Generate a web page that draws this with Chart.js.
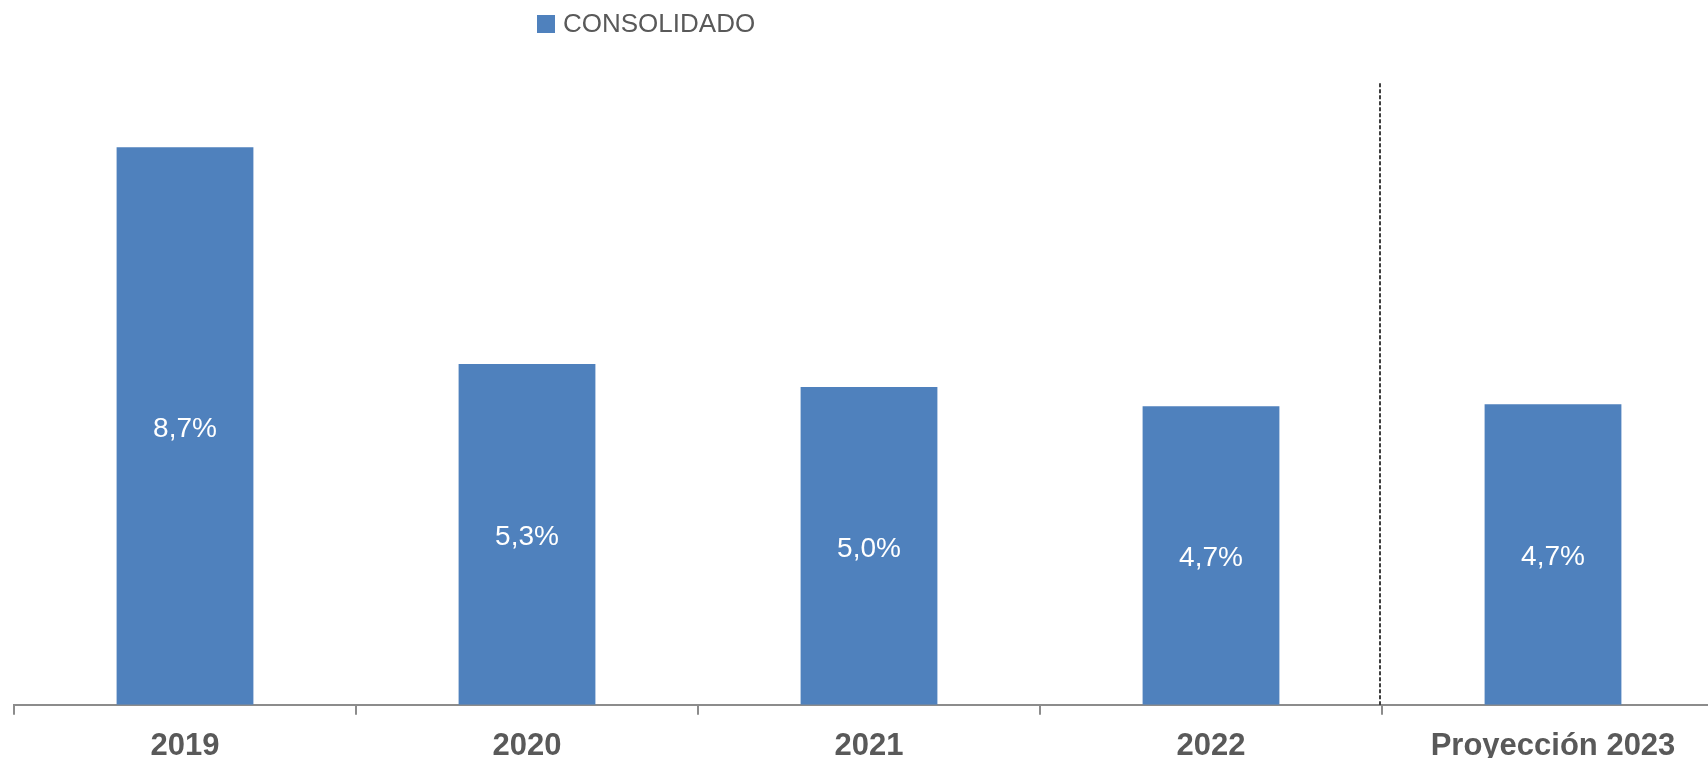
<!DOCTYPE html>
<html>
<head>
<meta charset="utf-8">
<script src="https://cdn.jsdelivr.net/npm/chart.js@4/dist/chart.umd.min.js"></script>
<style>
	html, body { margin: 0; padding: 0; background: #fff; overflow: hidden; }
	#wrap { width: 1730px; height: 778px; }
</style>
</head>
<body>
<div id="wrap"><canvas id="bar-chartcanvas"></canvas></div>
<script>
// datos del grafico
var anios = ["2019", "2020", "2021", "2022", "Proyección 2023"];
var consolidado = [8.7, 5.32, 4.96, 4.66, 4.69];
var serieNombre = "CONSOLIDADO";
var ejeMax = 10;
var separadorTope = 9.7; // donde empieza la linea punteada (valor del eje)

var azul = "#4F81BD";
var gris = "#595959";

// leyenda dibujada a mano (fuera del centro del grafico)
var leyenda = {
	id: "leyenda",
	afterDraw: function(chart) {
		var ctx = chart.ctx;
		var ds = chart.data.datasets[0];
		ctx.save();
		ctx.fillStyle = ds.backgroundColor;
		ctx.fillRect(537, 15, 18, 18);
		ctx.fillStyle = gris;
		ctx.font = "26px 'Liberation Sans', Arial, sans-serif";
		ctx.textBaseline = "middle";
		ctx.textAlign = "left";
		ctx.fillText(ds.label, 563, 25);
		ctx.restore();
	}
};

// etiquetas blancas dentro de las barras
var etiquetas = {
	id: "etiquetas",
	afterDatasetsDraw: function(chart) {
		var ctx = chart.ctx;
		var meta = chart.getDatasetMeta(0);
		ctx.save();
		ctx.fillStyle = "#fff";
		ctx.font = "28px 'Liberation Sans', Arial, sans-serif";
		ctx.textAlign = "center";
		ctx.textBaseline = "middle";
		meta.data.forEach(function(bar, i) {
			var p = bar.getCenterPoint();
			var txt = consolidado[i].toFixed(1).replace(".", ",") + "%";
			ctx.fillText(txt, p.x, p.y + 3);
		});
		ctx.restore();
	}
};

// linea punteada entre 2022 y la proyeccion
var separador = {
	id: "separador",
	afterDatasetsDraw: function(chart) {
		var ctx = chart.ctx;
		var x = chart.scales.x;
		var y = chart.scales.y;
		var px = (x.getPixelForValue(3) + x.getPixelForValue(4)) / 2 - 2;
		ctx.save();
		ctx.strokeStyle = "#000";
		ctx.lineWidth = 1.5;
		ctx.setLineDash([4, 2]);
		ctx.beginPath();
		ctx.moveTo(px, y.getPixelForValue(separadorTope));
		ctx.lineTo(px, y.getPixelForValue(0));
		ctx.stroke();
		ctx.restore();
	}
};

var ctx = document.getElementById("bar-chartcanvas");

var data = {
	labels: anios,
	datasets: [
		{
			label: serieNombre,
			data: consolidado,
			backgroundColor: azul,
			borderWidth: 0,
			barPercentage: 1,
			categoryPercentage: 0.4
		}
	]
};

var options = {
	responsive: true,
	maintainAspectRatio: false,
	animation: false,
	layout: {
		padding: { top: 64, left: 14, right: 6, bottom: 0 }
	},
	plugins: {
		legend: { display: false },
		tooltip: { enabled: false }
	},
	scales: {
		x: {
			grid: {
				display: true,
				offset: true,
				drawOnChartArea: false,
				drawTicks: true,
				tickLength: 10,
				color: "#8c8c8c",
				lineWidth: 2
			},
			border: { display: true, color: "#8c8c8c", width: 2 },
			ticks: {
				color: gris,
				padding: 13,
				maxRotation: 0,
				font: { family: "'Liberation Sans', Arial, sans-serif", size: 31, weight: "bold" }
			}
		},
		y: {
			display: false,
			min: 0,
			max: ejeMax
		}
	}
};

var chart = new Chart(ctx, {
	type: "bar",
	data: data,
	options: options,
	plugins: [leyenda, etiquetas, separador]
});
</script>
</body>
</html>
